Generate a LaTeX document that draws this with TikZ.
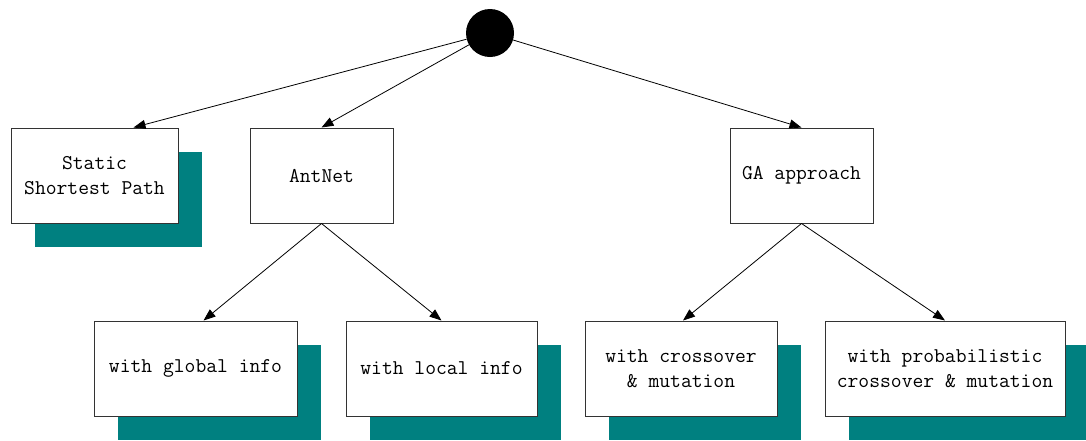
\documentclass[tikz,border=0pt]{standalone}
\usepackage{fontspec}
\usetikzlibrary{arrows.meta,shadows}

\definecolor{shadowteal}{RGB}{0,128,128}

\begin{document}
\begin{tikzpicture}[x=1pt,y=-1pt,
  box/.style={draw=black!80,line width=1pt,fill=white,inner sep=0pt,
    minimum height=95pt,align=center,
    font=\ttfamily\fontsize{21}{25}\selectfont},
  shadowbox/.style={box,drop shadow={shadow xshift=24pt,shadow yshift=-24pt,
    fill=shadowteal,opacity=1}},
  link/.style={line width=0.8pt,-{Triangle[length=12pt,width=9pt]}}]
 \useasboundingbox (0,0) rectangle (1086,440);
 \node[circle,fill=black,minimum size=48pt,inner sep=0pt] (root) at (490,33) {};
% first level
 \node[shadowbox,minimum width=167pt] (static) at (94.5,175.5) {Static\\Shortest Path};
 \node[box,minimum width=143pt] (antnet) at (321.5,175.5) {AntNet};
 \node[box,minimum width=143pt] (ga) at (801.5,175.5) {GA approach};
% second level
 \node[shadowbox,minimum width=203pt] (global) at (195.5,368.5) {with global info};
 \node[shadowbox,minimum width=191pt] (local) at (441.5,368.5) {with local info};
 \node[shadowbox,minimum width=192pt] (cross) at (681,368.5) {with crossover\\\& mutation};
 \node[shadowbox,minimum width=240pt] (prob) at (945,368.5) {with probabilistic\\crossover \& mutation};
% connectors
 \draw[link] (root) -- ([xshift=39pt]static.north);
 \draw[link] (root) -- (antnet.north);
 \draw[link] (root) -- (ga.north);
 \draw[link] (antnet.south) -- ([xshift=8pt]global.north);
 \draw[link] (antnet.south) -- (local.north);
 \draw[link] (ga.south) -- ([xshift=2pt]cross.north);
 \draw[link] (ga.south) -- (prob.north);
\end{tikzpicture}
\end{document}
